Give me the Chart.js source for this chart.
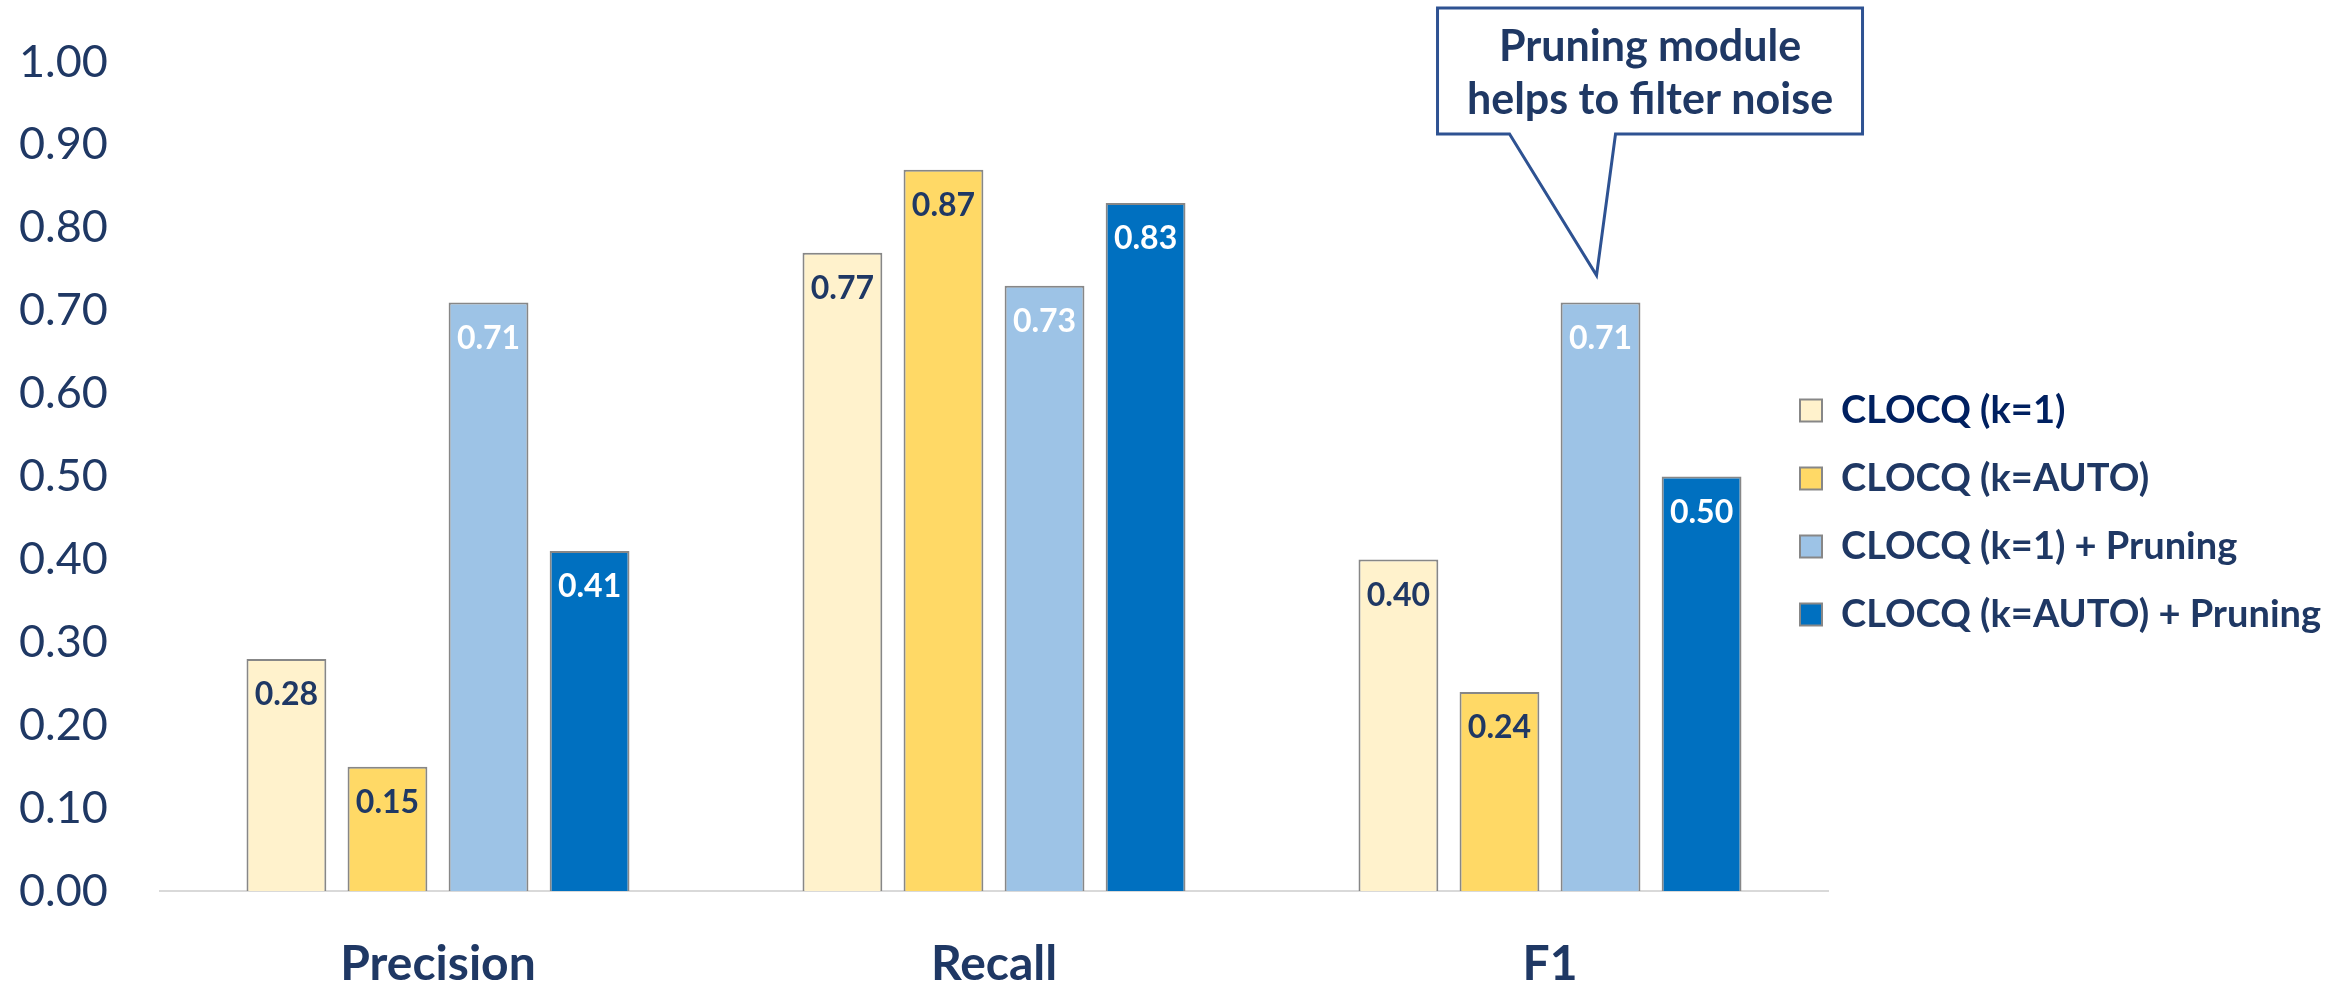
<!DOCTYPE html>
<html>
<head>
<meta charset="utf-8">
<script src="https://cdn.jsdelivr.net/npm/chart.js@4.4.1/dist/chart.umd.min.js"></script>
<style>
  html, body { margin: 0; padding: 0; background: #ffffff; }
  #wrap { width: 2346px; height: 981px; }
</style>
</head>
<body>
<div id="wrap"><canvas id="chart" width="2346" height="981"></canvas></div>
<script>
// Metrics on the x axis
const categories = ['Precision', 'Recall', 'F1'];

// Series names
const seriesNames = [
  'CLOCQ (k=1)',
  'CLOCQ (k=AUTO)',
  'CLOCQ (k=1) + Pruning',
  'CLOCQ (k=AUTO) + Pruning'
];

// Scores per metric (Precision, Recall, F1)
const clocqK1 = [0.28, 0.77, 0.40];
const clocqKAuto = [0.15, 0.87, 0.24];
const clocqK1Pruning = [0.71, 0.73, 0.71];
const clocqKAutoPruning = [0.41, 0.83, 0.50];

// Value axis
const yMin = 0;
const yMax = 1;
const yStep = 0.1;

// Callout text
const calloutLines = ['Pruning module', 'helps to filter noise'];

const NAVY = '#1F3864';
const fillColors = ['#FFF2CC', '#FFD966', '#9DC3E6', '#0070C0'];
const labelColors = [NAVY, NAVY, '#FFFFFF', '#FFFFFF'];
const legendColors = ['#002060', NAVY, NAVY, NAVY];
const FONT = 'Lato, "Open Sans", "DejaVu Sans", sans-serif';

const seriesValues = [clocqK1, clocqKAuto, clocqK1Pruning, clocqKAutoPruning];

// Value labels printed just inside the top of every bar
const valueLabels = {
  id: 'valueLabels',
  afterDatasetsDraw(chart) {
    const ctx = chart.ctx;
    ctx.save();
    ctx.font = 'bold 32px ' + FONT;
    ctx.textAlign = 'center';
    ctx.textBaseline = 'middle';
    chart.data.datasets.forEach((ds, i) => {
      const meta = chart.getDatasetMeta(i);
      ctx.fillStyle = labelColors[i];
      meta.data.forEach((bar, j) => {
        ctx.fillText(ds.data[j].toFixed(2), bar.x, bar.y + 36);
      });
    });
    ctx.restore();
  }
};

// Speech-bubble note pointing at the pruned k=1 F1 bar
const callout = {
  id: 'callout',
  afterDraw(chart) {
    const bar = chart.getDatasetMeta(2).data[2];
    const ax = bar.x, ay = bar.y;
    const left = ax - 163, right = ax + 262, top = 8, bottom = 134;
    const ctx = chart.ctx;
    ctx.save();
    ctx.lineWidth = 3;
    ctx.strokeStyle = '#2E5292';
    ctx.fillStyle = '#FFFFFF';
    ctx.lineJoin = 'miter';
    ctx.beginPath();
    ctx.moveTo(left, top);
    ctx.lineTo(right, top);
    ctx.lineTo(right, bottom);
    ctx.lineTo(ax + 15, bottom);
    ctx.lineTo(ax - 4, ay - 27);
    ctx.lineTo(ax - 91, bottom);
    ctx.lineTo(left, bottom);
    ctx.closePath();
    ctx.fill();
    ctx.stroke();
    ctx.fillStyle = NAVY;
    ctx.font = 'bold 43px ' + FONT;
    ctx.textAlign = 'center';
    ctx.textBaseline = 'middle';
    const cx = (left + right) / 2;
    ctx.fillText(calloutLines[0], cx, 47);
    ctx.fillText(calloutLines[1], cx, 100);
    ctx.restore();
  }
};

// Let the legend column sit slightly over the right end of the plot,
// vertically tied to the plot area
const legendPlacement = {
  id: 'legendPlacement',
  afterLayout(chart) {
    const lg = chart.legend;
    const area = chart.chartArea;
    const pad = lg.options.labels.padding;
    lg.left = area.right - 28 - pad;
    lg.top = area.top + 36;
    lg.bottom = area.bottom + 36;
  }
};

new Chart(document.getElementById('chart'), {
  type: 'bar',
  data: {
    labels: categories,
    datasets: seriesNames.map((name, i) => ({
      label: name,
      data: seriesValues[i],
      backgroundColor: fillColors[i],
      borderColor: '#878787',
      borderWidth: 2,
      borderSkipped: 'bottom',
      categoryPercentage: 0.727,
      barPercentage: 0.79
    }))
  },
  options: {
    responsive: false,
    animation: false,
    devicePixelRatio: 1,
    layout: { padding: { top: 62, right: 0, bottom: 0, left: 19 } },
    scales: {
      x: {
        grid: { display: false },
        border: { display: true, color: '#D9D9D9', width: 2 },
        ticks: {
          color: NAVY,
          font: { family: FONT, size: 48, weight: 'bold' },
          padding: 37,
          maxRotation: 0
        },
        afterFit(scale) { scale.height = 90; }
      },
      y: {
        min: yMin,
        max: yMax,
        grid: { display: false },
        border: { display: false },
        ticks: {
          stepSize: yStep,
          color: NAVY,
          font: { family: FONT, size: 45 },
          padding: 0,
          crossAlign: 'far',
          callback: (v) => Number(v).toFixed(2)
        },
        afterFit(scale) { scale.width = 141; }
      }
    },
    plugins: {
      tooltip: { enabled: false },
      legend: {
        position: 'right',
        align: 'center',
        maxWidth: 518,
        labels: {
          boxWidth: 22,
          boxHeight: 22,
          padding: 30,
          color: NAVY,
          font: { family: FONT, size: 38, weight: 'bold' },
          generateLabels(chart) {
            const items = Chart.defaults.plugins.legend.labels.generateLabels(chart);
            items.forEach((it, i) => { it.fontColor = legendColors[i]; it.lineWidth = 2; });
            return items;
          }
        }
      }
    }
  },
  plugins: [valueLabels, callout, legendPlacement]
});
</script>
</body>
</html>
